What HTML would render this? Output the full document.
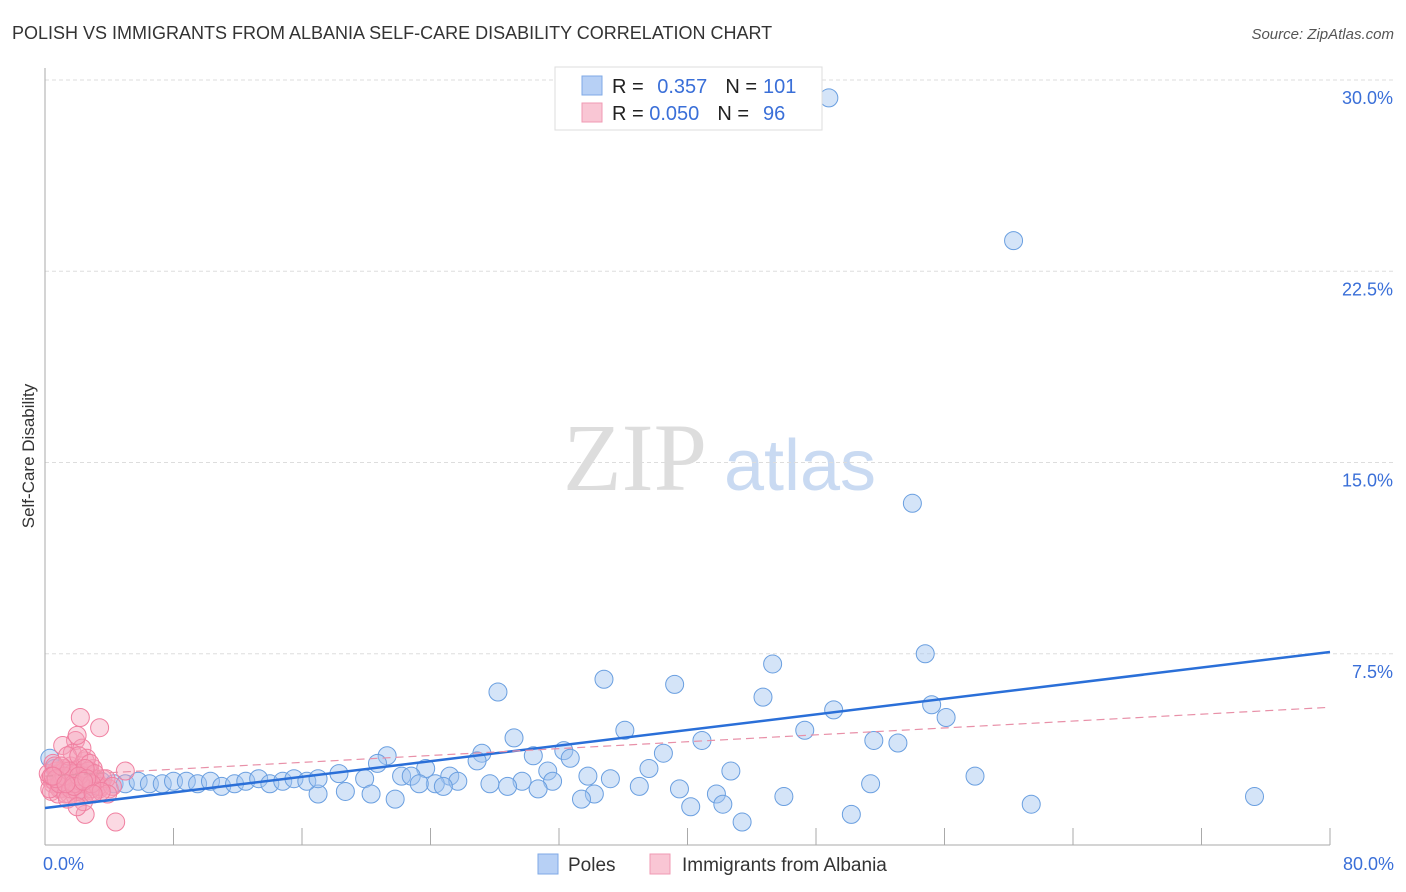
<!DOCTYPE html>
<html><head><meta charset="utf-8"><style>
body{margin:0;background:#fff;font-family:"Liberation Sans",sans-serif;}
svg{display:block}
</style></head><body>
<svg width="1406" height="892" id="chart">
<text x="12" y="39" font-size="18" fill="#333">POLISH VS IMMIGRANTS FROM ALBANIA SELF-CARE DISABILITY CORRELATION CHART</text>
<text x="1394" y="39" font-size="15" fill="#555" font-style="italic" text-anchor="end">Source: ZipAtlas.com</text>
<text x="0" y="0" transform="translate(34,456) rotate(-90)" font-size="17" fill="#333" text-anchor="middle">Self-Care Disability</text>
<g><text x="635" y="490" font-family="Liberation Serif,serif" font-size="96" fill="#ddd" text-anchor="middle">ZIP</text><text x="800" y="490" font-size="72" fill="#c9daf2" text-anchor="middle">atlas</text></g>
<g id="grid"></g><g id="axes"></g><g id="pts"></g><g id="lines"></g>
<g>
<rect x="555" y="67" width="267" height="63" fill="#fff" stroke="#ddd"/>
<rect x="582" y="76" width="20" height="19" fill="#b7d0f5" stroke="#7fa9e6"/>
<rect x="582" y="103" width="20" height="19" fill="#f9c6d4" stroke="#f09ab3"/>
<text x="612" y="93" font-size="20" fill="#222">R = <tspan fill="#3a6fd8" dx="8">0.357</tspan><tspan dx="18" fill="#222">N =</tspan><tspan dx="6" fill="#3a6fd8">101</tspan></text>
<text x="612" y="120" font-size="20" fill="#222">R = <tspan fill="#3a6fd8">0.050</tspan><tspan dx="18" fill="#222">N =</tspan><tspan dx="14" fill="#3a6fd8">96</tspan></text>
</g>
<g>
<rect x="538" y="854" width="20" height="20" fill="#b7d0f5" stroke="#7fa9e6"/>
<text x="568" y="871" font-size="19" fill="#333">Poles</text>
<rect x="650" y="854" width="20" height="20" fill="#f9c6d4" stroke="#f09ab3"/>
<text x="682" y="871" font-size="19" fill="#333">Immigrants from Albania</text>
</g>
</svg>
<script>
const yTicks=[7.5,15,22.5,30];
const yTickLabels=["7.5%","15.0%","22.5%","30.0%"];
const xTicks=[0,8,16,24,32,40,48,56,64,72,80];
const xEndLabels=["0.0%","80.0%"];
const polesX=[48.8,60.3,54.0,54.8,45.3,34.8,39.2,28.2,44.7,55.2,49.1,56.1,36.1,47.3,29.2,51.6,53.1,40.9,38.5,27.2,32.3,21.3,30.4,20.7,32.7,26.9,23.7,37.6,42.7,31.3,18.3,57.9,22.2,22.8,25.2,33.8,35.2,19.9,29.7,27.7,31.6,25.7,51.4,39.5,37.0,24.3,23.3,24.8,30.7,28.8,18.7,17.0,20.3,34.2,41.8,46.0,75.3,33.4,21.8,61.4,42.2,40.2,50.2,43.4,0.3,1,1.5,2,2.8,3.5,4.3,5,5.8,6.5,7.3,8,8.8,9.5,10.3,11,11.8,12.5,13.3,14,14.8,15.5,16.3,17,0.6,1.2,2.3,3.1];
const polesY=[29.3,23.7,13.4,7.5,7.1,6.5,6.3,6.0,5.8,5.5,5.3,5.0,4.5,4.5,4.2,4.1,4.0,4.1,3.6,3.6,3.7,3.5,3.5,3.2,3.4,3.3,3.0,3.0,2.9,2.9,2.8,2.7,2.7,2.7,2.7,2.7,2.6,2.6,2.5,2.4,2.5,2.5,2.4,2.2,2.3,2.4,2.4,2.3,2.2,2.3,2.1,2.0,2.0,2.0,2.0,1.9,1.9,1.8,1.8,1.6,1.6,1.5,1.2,0.9,3.4,2.5,2.4,2.4,2.3,2.5,2.4,2.4,2.5,2.4,2.4,2.5,2.5,2.4,2.5,2.3,2.4,2.5,2.6,2.4,2.5,2.6,2.5,2.6,3.0,2.8,2.2,2.6];
const albX=[2.2,3.4,1.9,1.1,5.0,2.5,4.4,0.3,0.5,0.8,1.0,1.2,1.4,1.6,1.8,2.0,2.2,2.4,2.6,2.8,3.0,3.2,0.4,0.7,1.0,1.3,1.6,1.9,2.2,2.5,2.8,3.1,3.4,0.2,0.6,0.9,1.2,1.5,1.8,2.1,2.4,2.7,3.0,0.5,1.0,1.5,2.0,2.5,3.0,3.5,1.7,2.3,2.0,1.4,2.6,3.6,4.0,0.8,1.1,1.9,2.9,0.3,0.6,1.3,1.7,2.1,2.7,3.3,0.9,1.6,2.4,3.8,4.2,1.2,2.0,2.8,0.4,1.5,2.2,3.1,3.9,1.8,2.5,0.7,1.4,2.1,2.9,1.0,1.8,2.6,3.5,0.5,2.0,2.4,3.0,1.3];
const albY=[5.0,4.6,4.1,3.9,2.9,1.2,0.9,2.6,2.4,2.8,2.2,3.0,2.5,2.7,2.3,2.9,2.6,2.1,2.8,2.4,3.0,2.5,2.1,2.9,2.6,2.3,3.1,2.7,2.4,2.0,2.9,2.6,2.2,2.8,2.5,2.2,2.9,2.6,2.3,3.0,2.7,2.4,2.1,3.2,2.4,2.0,2.8,3.3,2.5,2.3,3.6,3.8,4.3,3.5,3.4,2.6,2.2,2.0,2.6,1.9,2.2,2.2,3.1,2.0,2.8,3.5,2.9,2.3,2.4,2.2,1.7,2.6,2.3,2.7,2.1,3.2,2.7,2.9,2.5,2.8,2.0,2.4,3.0,2.6,1.8,2.7,2.4,3.1,2.3,2.6,2.1,2.7,1.5,2.5,2.0,2.4];
const polesTrend=[1.45,7.57];
const albTrend=[2.7,5.4];
const X0=45,X1=1330,Y0=845,PXY=25.5;
function sx(v){return X0+(X1-X0)*v/80;}
function sy(v){return Y0-v*PXY;}
const NS="http://www.w3.org/2000/svg";
function mk(tag,parent,attrs){const e=document.createElementNS(NS,tag);for(const k in attrs)e.setAttribute(k,attrs[k]);parent.appendChild(e);return e;}
const grid=document.getElementById('grid'),axes=document.getElementById('axes'),pts=document.getElementById('pts'),lines=document.getElementById('lines');
yTicks.forEach((t,i)=>{
 const l=mk('line',grid,{x1:X0,x2:1394,y1:sy(t),y2:sy(t),stroke:'#ddd','stroke-dasharray':'4,3'});
 
 
 const tx=mk('text',grid,{x:1393,y:sy(t)+24,'font-size':18,fill:'#3a6fd8','text-anchor':'end'});
 tx.textContent=yTickLabels[i];
 
 
});
const ya=mk('line',axes,{x1:X0,x2:X0,y1:68,y2:Y0,stroke:'#aaa'});


const xa=mk('line',axes,{x1:X0,x2:X1,y1:Y0,y2:Y0,stroke:'#aaa'});


xTicks.forEach(t=>{
 const l=mk('line',axes,{x1:sx(t),x2:sx(t),y1:828,y2:Y0,stroke:'#aaa'});
 
 
});
[[0,'start',X0-2],[80,'end',1394]].forEach((d,i)=>{
 const tx=mk('text',axes,{x:d[2],y:870,'font-size':18,fill:'#3a6fd8','text-anchor':d[1]});
 tx.textContent=xEndLabels[i];
 
 
});
polesX.forEach((v,i)=>{
 const c=mk('circle',pts,{cx:sx(v),cy:sy(polesY[i]),r:9,fill:'rgba(160,195,240,0.45)',stroke:'#6a9fe0','stroke-width':1});
 
 
});
albX.forEach((v,i)=>{
 const c=mk('circle',pts,{cx:sx(v),cy:sy(albY[i]),r:9,fill:'rgba(245,160,185,0.4)',stroke:'#f07fa0','stroke-width':1});
 
 
});
const pl=mk('line',lines,{x1:sx(0),x2:sx(80),y1:sy(polesTrend[0]),y2:sy(polesTrend[1]),stroke:'#2a6fd8','stroke-width':2.5});


const al=mk('line',lines,{x1:sx(0),x2:sx(80),y1:sy(albTrend[0]),y2:sy(albTrend[1]),stroke:'#e890a8','stroke-width':1.2,'stroke-dasharray':'8,5'});


</script>
</body></html>
